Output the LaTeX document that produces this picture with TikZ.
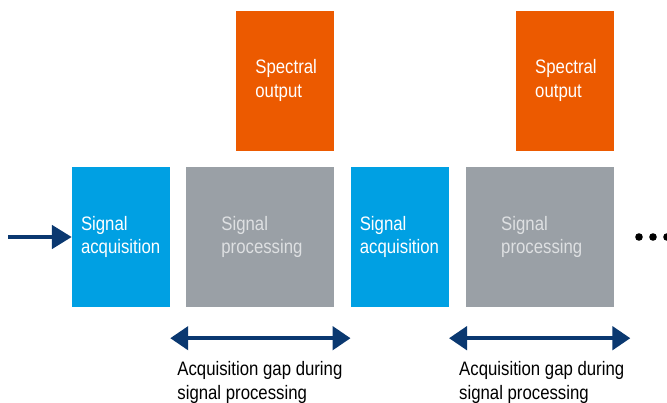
\documentclass[tikz,border=0pt]{standalone}
\usepackage{fontspec}
\setmainfont[FakeStretch=0.86]{Liberation Sans}
\usetikzlibrary{positioning, arrows.meta}
\definecolor{acqblue}{RGB}{0,160,227}
\definecolor{procgray}{RGB}{154,160,166}
\definecolor{proctext}{RGB}{222,224,226}
\definecolor{specorange}{RGB}{236,90,0}
\definecolor{navy}{RGB}{10,56,112}

\begin{document}
\begin{tikzpicture}[x=1pt, y=-1pt, node distance=16pt,
    every node/.style={font=\fontsize{19.5}{23.5}\selectfont},
    acq/.style={fill=acqblue, text=white, minimum height=140pt, inner xsep=9pt, text width=80pt, align=left},
    proc/.style={fill=procgray, text=proctext, minimum height=140pt, inner xsep=35pt, text width=78pt, align=left},
    spec/.style={fill=specorange, text=white, minimum height=140pt, inner xsep=19pt, text width=60pt, align=left},
    gap/.style={{Triangle[length=18pt,width=23pt]}-{Triangle[length=18pt,width=23pt]}, line width=4.5pt, navy},
    note/.style={anchor=north west, align=left, inner sep=0pt}]
    \useasboundingbox (0,0) rectangle (667,403);
    % processing chain
    \node[acq] (acq1) at (121,237) {Signal\\acquisition};
    \node[proc, right=of acq1] (proc1) {Signal\\processing};
    \node[acq, right=of proc1] (acq2) {Signal\\acquisition};
    \node[proc, right=17pt of acq2] (proc2) {Signal\\processing};
    \node[spec, anchor=south east] (spec1) at ([yshift=16pt]proc1.north east) {Spectral\\output};
    \node[spec, anchor=south east] (spec2) at ([yshift=16pt]proc2.north east) {Spectral\\output};
    % input
    \coordinate (in) at (8,237);
    \draw[-{Triangle[length=20pt,width=23pt]}, line width=4.8pt, navy] (in) -- (acq1.west);
    % gaps
    \coordinate (gap1a) at ([yshift=-31pt]acq1.south east);
    \coordinate (gap1b) at ([yshift=-31pt]acq2.south west);
    \coordinate (gap2a) at ([yshift=-31pt]acq2.south east);
    \coordinate (gap2b) at ([xshift=16pt,yshift=-31pt]proc2.south east);
    \draw[gap] (gap1a) -- (gap1b);
    \draw[gap] (gap2a) -- (gap2b);
    \node[note] (note1) at ([xshift=7pt,yshift=-54pt]acq1.south east) {Acquisition gap during\\signal processing};
    \node[note] (note2) at ([xshift=10pt,yshift=-54pt]acq2.south east) {Acquisition gap during\\signal processing};
    % more to come
    \foreach \x in {639,653,667}
        \fill (\x,237) circle (3.8pt);
\end{tikzpicture}
\end{document}
